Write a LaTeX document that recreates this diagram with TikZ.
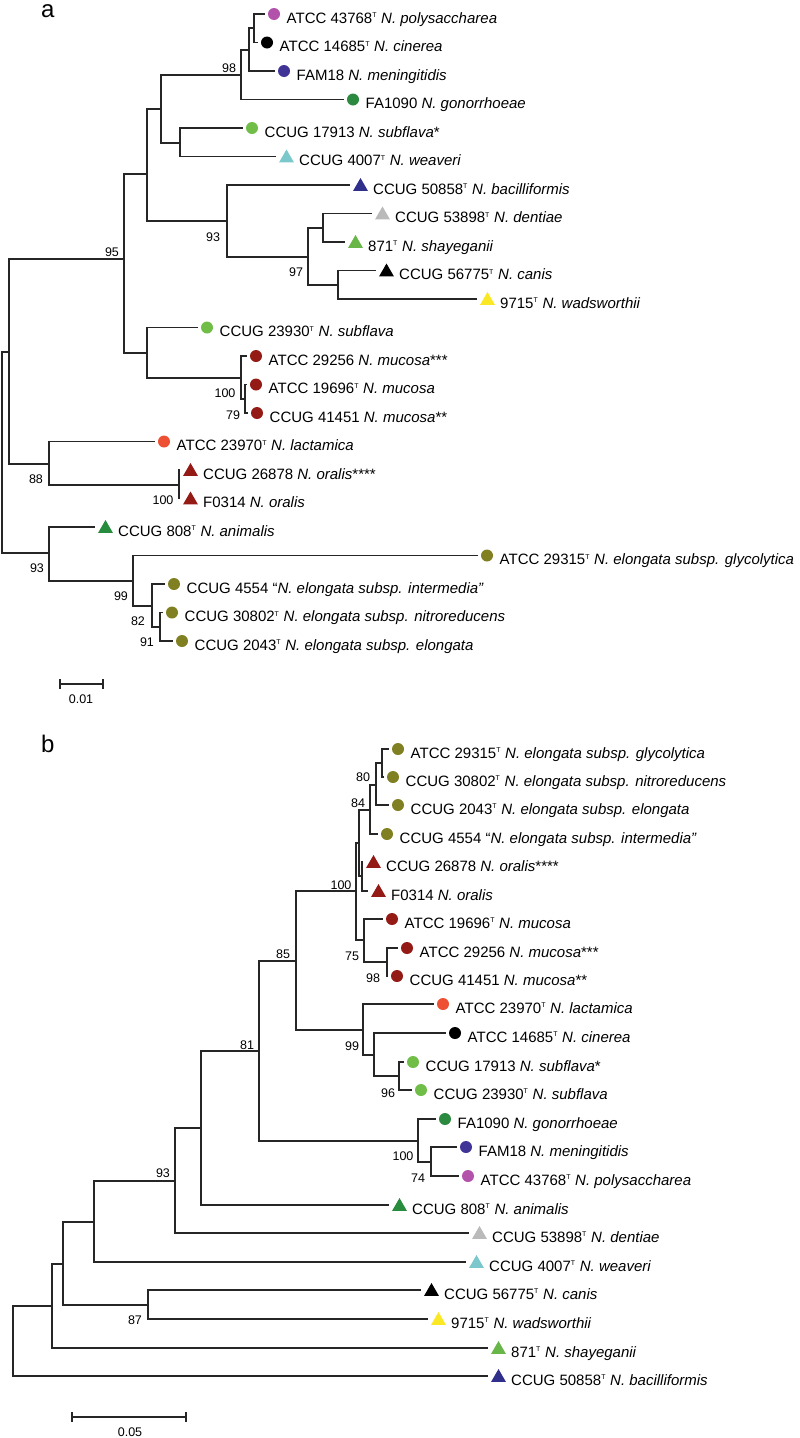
\documentclass[tikz,border=0pt]{standalone}
\usepackage{fontspec}
\setmainfont{Liberation Sans}
\usetikzlibrary{shapes.geometric}

% marker colours
\definecolor{polyc}{RGB}{178,82,170}
\definecolor{meninc}{RGB}{64,52,150}
\definecolor{gonoc}{RGB}{44,138,64}
\definecolor{subflc}{RGB}{112,190,72}
\definecolor{weavc}{RGB}{122,200,204}
\definecolor{bacic}{RGB}{48,48,140}
\definecolor{dentc}{RGB}{186,186,186}
\definecolor{shayc}{RGB}{104,182,72}
\definecolor{wadsc}{RGB}{250,232,36}
\definecolor{mucoc}{RGB}{148,26,22}
\definecolor{lactc}{RGB}{238,80,52}
\definecolor{animc}{RGB}{40,140,62}
\definecolor{elonc}{RGB}{128,128,34}

\newcommand{\tsup}{\textsuperscript{\fontsize{7}{7}\selectfont T}}

\tikzset{
  branch/.style={draw=black!85, line width=1.1pt},
  dot/.style={circle, fill=#1, inner sep=0pt, minimum size=12pt, xshift=9pt},
  tri/.style={regular polygon, regular polygon sides=3, fill=#1, inner sep=0pt,
    minimum size=17pt, xshift=10.5pt, yshift=-1.5pt},
  tiplab/.style={anchor=base west, inner sep=0pt, xshift=12.5pt, yshift=-9pt,
    font=\fontsize{15}{18}\selectfont},
  boot/.style={inner sep=0pt, font=\fontsize{12.5}{15}\selectfont},
  panel/.style={anchor=base west, inner sep=0pt, font=\fontsize{24}{28}\selectfont}
}

\begin{document}
\begin{tikzpicture}[x=1pt, y=-1pt]
    \useasboundingbox (0,0) rectangle (800,1438);

    \node[panel] (pa) at (41,17) {a};
    \node[panel] (pb) at (41,752) {b};

    % ---- tree a ----
    % internal nodes
    \foreach \nm/\x/\y in {ra/2/452, W/9/352, P6/124/259, P5/147/174, P4/161/109,
        P3/241/75, P2/249/50, P1/254/28, Q/180/143, R/227/221, S/308/257,
        T/323/228, U/338/285, V/147/353, Mu1/241/378, Mu2/245/399, X/49/464,
        Y/179/485, AA/49/553, AB/133/581, AC/152/606, AD/160/627}
        \coordinate (\nm) at (\x,\y);

    % tips: end of branch, marker, label
    \foreach \nm/\x/\y/\mk/\col/\lab in {
        a1/265/14/dot/polyc/{ATCC 43768\tsup{} \textit{N. polysaccharea}},
        a2/258/42.5/dot/black/{ATCC 14685\tsup{} \textit{N. cinerea}},
        a3/275/71/dot/meninc/{FAM18 \textit{N. meningitidis}},
        a4/344/99.5/dot/gonoc/{FA1090 \textit{N. gonorrhoeae}},
        a5/243/128/dot/subflc/{CCUG 17913 \textit{N. subflava}*},
        a6/276/156.5/tri/weavc/{CCUG 4007\tsup{} \textit{N. weaveri}},
        a7/350/185/tri/bacic/{CCUG 50858\tsup{} \textit{N. bacilliformis}},
        a8/372/213.5/tri/dentc/{CCUG 53898\tsup{} \textit{N. dentiae}},
        a9/345/242/tri/shayc/{871\tsup{} \textit{N. shayeganii}},
        a10/376/270.5/tri/black/{CCUG 56775\tsup{} \textit{N. canis}},
        a11/477/299/tri/wadsc/{9715\tsup{} \textit{N. wadsworthii}},
        a12/198/327.5/dot/subflc/{CCUG 23930\tsup{} \textit{N. subflava}},
        a13/247/356/dot/mucoc/{ATCC 29256 \textit{N. mucosa}***},
        a14/247/384.5/dot/mucoc/{ATCC 19696\tsup{} \textit{N. mucosa}},
        a15/248/413/dot/mucoc/{CCUG 41451 \textit{N. mucosa}**},
        a16/155/441.5/dot/lactc/{ATCC 23970\tsup{} \textit{N. lactamica}},
        a17/180/470/tri/mucoc/{CCUG 26878 \textit{N. oralis}****},
        a18/180/498.5/tri/mucoc/{F0314 \textit{N. oralis}},
        a19/95/527/tri/animc/{CCUG 808\tsup{} \textit{N. animalis}},
        a20/478/555.5/dot/elonc/{ATCC 29315\tsup{} \textit{N. elongata subsp. glycolytica}},
        a21/165/584/dot/elonc/{CCUG 4554 “\textit{N. elongata subsp. intermedia”}},
        a22/163/612.5/dot/elonc/{CCUG 30802\tsup{} \textit{N. elongata subsp. nitroreducens}},
        a23/173/641/dot/elonc/{CCUG 2043\tsup{} \textit{N. elongata subsp. elongata}}}{
        \coordinate (\nm) at (\x,\y);
        \node[\mk=\col] (\nm-m) at (\nm) {};
        \node[tiplab] (\nm-t) at (\nm-m.center |- \nm) {\lab};
    }

    \foreach \p/\kid in {ra/W, ra/AA, W/P6, W/X, P6/P5, P6/V, P5/P4, P5/R,
        P4/P3, P4/Q, P3/P2, P3/a4, P2/P1, P2/a3, P1/a1, P1/a2, Q/a5, Q/a6,
        R/a7, R/S, S/T, S/U, T/a8, T/a9, U/a10, U/a11, V/a12, V/Mu1,
        Mu1/a13, Mu1/Mu2, Mu2/a14, Mu2/a15, X/a16, X/Y, Y/a17, Y/a18,
        AA/a19, AA/AB, AB/a20, AB/AC, AC/a21, AC/AD, AD/a22, AD/a23}
        \draw[branch] (\p) |- (\kid);

    % bootstrap values
    \foreach \nm/\x/\y/\v in {ba1/229/68/98, ba2/213/237/93, ba3/296/272/97,
        ba4/112/252/95, ba5/225/393/100, ba6/233/415/79, ba7/36/479/88,
        ba8/163/500/100, ba9/37/568/93, ba10/121/596/99, ba11/138/621/82,
        ba12/147/642/91}
        \node[boot] (\nm) at (\x,\y) {\v};

    % scale bar
    \coordinate (sa1) at (60,684);
    \coordinate (sa2) at (103,684);
    \draw[branch] (sa1) -- (sa2);
    \draw[branch] ([yshift=5pt]sa1) -- ([yshift=-5pt]sa1);
    \draw[branch] ([yshift=5pt]sa2) -- ([yshift=-5pt]sa2);
    \node[boot] (sa-lab) at (81,699) {0.01};

    % ---- tree b ----
    \foreach \nm/\x/\y in {rb/13/1341, H8/52/1306, H6/63/1264, H5/94/1222,
        H7/148/1305, H4/175/1181, H3/201/1128, H2/259/1051, H1/296/961,
        K1/418/1141, K2/431/1162, G5/356/891, J1/363/1030, J2/374/1055,
        J3/399/1076, G4/359/843, M1/364/940, M2/387/962, G3/370/810,
        O/362/876, G2/376/785, G1/382/763}
        \coordinate (\nm) at (\x,\y);

    \foreach \nm/\x/\y/\mk/\col/\lab in {
        b1/389/749/dot/elonc/{ATCC 29315\tsup{} \textit{N. elongata subsp. glycolytica}},
        b2/384/777/dot/elonc/{CCUG 30802\tsup{} \textit{N. elongata subsp. nitroreducens}},
        b3/389/805/dot/elonc/{CCUG 2043\tsup{} \textit{N. elongata subsp. elongata}},
        b4/378/834/dot/elonc/{CCUG 4554 “\textit{N. elongata subsp. intermedia”}},
        b5/363/862/tri/mucoc/{CCUG 26878 \textit{N. oralis}****},
        b6/368/891/tri/mucoc/{F0314 \textit{N. oralis}},
        b7/383/919/dot/mucoc/{ATCC 19696\tsup{} \textit{N. mucosa}},
        b8/398/948/dot/mucoc/{ATCC 29256 \textit{N. mucosa}***},
        b9/388/976/dot/mucoc/{CCUG 41451 \textit{N. mucosa}**},
        b10/434/1004/dot/lactc/{ATCC 23970\tsup{} \textit{N. lactamica}},
        b11/446/1033/dot/black/{ATCC 14685\tsup{} \textit{N. cinerea}},
        b12/404/1062/dot/subflc/{CCUG 17913 \textit{N. subflava}*},
        b13/412/1090/dot/subflc/{CCUG 23930\tsup{} \textit{N. subflava}},
        b14/436/1119/dot/gonoc/{FA1090 \textit{N. gonorrhoeae}},
        b15/457/1147/dot/meninc/{FAM18 \textit{N. meningitidis}},
        b16/459/1176/dot/polyc/{ATCC 43768\tsup{} \textit{N. polysaccharea}},
        b17/389/1205/tri/animc/{CCUG 808\tsup{} \textit{N. animalis}},
        b18/469/1233/tri/dentc/{CCUG 53898\tsup{} \textit{N. dentiae}},
        b19/466/1262/tri/weavc/{CCUG 4007\tsup{} \textit{N. weaveri}},
        b20/421/1290/tri/black/{CCUG 56775\tsup{} \textit{N. canis}},
        b21/428/1319/tri/wadsc/{9715\tsup{} \textit{N. wadsworthii}},
        b22/488/1348/tri/shayc/{871\tsup{} \textit{N. shayeganii}},
        b23/488/1376/tri/bacic/{CCUG 50858\tsup{} \textit{N. bacilliformis}}}{
        \coordinate (\nm) at (\x,\y);
        \node[\mk=\col] (\nm-m) at (\nm) {};
        \node[tiplab] (\nm-t) at (\nm-m.center |- \nm) {\lab};
    }

    \foreach \p/\kid in {rb/H8, rb/b23, H8/H6, H8/b22, H6/H5, H6/H7, H7/b20,
        H7/b21, H5/H4, H5/b19, H4/H3, H4/b18, H3/H2, H3/b17, H2/H1, H2/K1,
        K1/b14, K1/K2, K2/b15, K2/b16, H1/G5, H1/J1, J1/b10, J1/J2, J2/b11,
        J2/J3, J3/b12, J3/b13, G5/G4, G5/M1, M1/b7, M1/M2, M2/b8, M2/b9,
        G4/G3, G4/O, O/b5, O/b6, G3/G2, G3/b4, G2/G1, G2/b3, G1/b1, G1/b2}
        \draw[branch] (\p) |- (\kid);

    \foreach \nm/\x/\y/\v in {bb1/363/777/80, bb2/358/803/84, bb3/341/885/100,
        bb4/352/956/75, bb5/373/978/98, bb6/283/954/85, bb7/352/1046/99,
        bb8/388/1093/96, bb9/247/1045/81, bb10/403/1156/100, bb11/418/1178/74,
        bb12/163/1173/93, bb13/135/1320/87}
        \node[boot] (\nm) at (\x,\y) {\v};

    \coordinate (sb1) at (72,1417);
    \coordinate (sb2) at (186,1417);
    \draw[branch] (sb1) -- (sb2);
    \draw[branch] ([yshift=5pt]sb1) -- ([yshift=-5pt]sb1);
    \draw[branch] ([yshift=5pt]sb2) -- ([yshift=-5pt]sb2);
    \node[boot] (sb-lab) at (130,1432) {0.05};
\end{tikzpicture}
\end{document}
